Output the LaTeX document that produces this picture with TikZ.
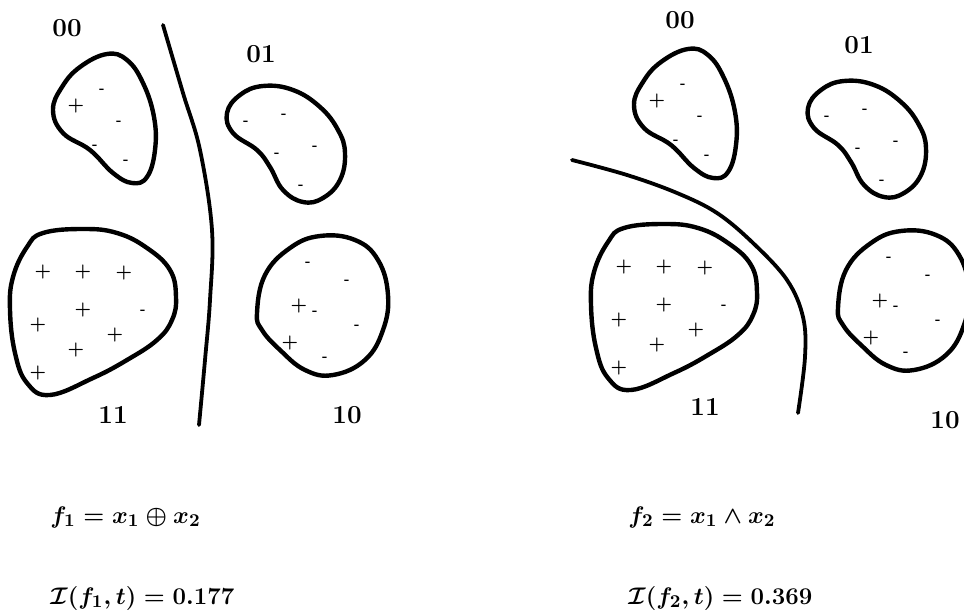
\documentclass[tikz,border=0pt]{standalone}
\usepackage{amsmath}

% the four clusters of one panel, #1 prefixes the node names
\newcommand\clusterset[1]{%
  \draw[blob] plot[smooth cycle,tension=.7] coordinates {(107,54) (127,60) (143,83) (154,117)
    (155,150) (147,177) (132,183) (113,173) (90,150) (63,133) (53,110) (62,87) (80,67)};
  \draw[blob] plot[smooth cycle,tension=.7] coordinates {(227,113) (240,95) (263,86) (293,90)
    (320,107) (338,130) (345,153) (340,180) (323,198) (303,202) (283,190) (270,167) (257,150) (233,133)};
  \draw[blob] plot[smooth cycle,tension=.7] coordinates {(43,233) (83,229) (117,233) (147,248)
    (170,270) (176,297) (172,320) (157,340) (127,360) (93,378) (50,395) (27,383) (15,353)
    (10,310) (13,277) (27,247)};
  \draw[blob] plot[smooth cycle,tension=.7] coordinates {(257,313) (265,275) (290,248) (320,236)
    (355,240) (378,260) (388,295) (383,330) (365,360) (333,375) (305,370) (280,350) (262,330)};
  \foreach \p [count=\i] in {(76,106),(43,272),(83,272),(124,273),(83,310),(38,325),(115,335),
      (76,350),(38,373),(299,306),(290,343)}
    \node[plusm] (#1pos\i) at \p {+};
  \foreach \p [count=\i] in {(102,91),(119,123),(95,147),(126,162),(246,123),(284,116),(277,155),
      (315,148),(301,187),(143,312),(308,264),(347,282),(315,313),(357,327),(325,359)}
    \node[negm] (#1neg\i) at \p {-};
}

\begin{document}
\begin{tikzpicture}[x=0.5pt,y=-0.5pt,
  blob/.style={line width=2.2pt,line join=round},
  cut/.style={line width=1.9pt,line cap=round},
  lab/.style={font=\fontsize{13}{15}\selectfont\bfseries,inner sep=0pt},
  plusm/.style={font=\fontsize{9}{10}\selectfont\bfseries,inner sep=0pt},
  negm/.style={font=\fontsize{6}{7}\selectfont\bfseries,inner sep=0pt},
  formula/.style={font=\fontsize{12.5}{15}\selectfont\boldmath,anchor=west,inner sep=0pt}]
\clip (0,0) rectangle (964,615);

% left panel: xor
\clusterset{L}
\draw[cut] plot[smooth,tension=.6] coordinates {(163,25) (183,93) (200,150) (212,230)
  (210,300) (205,360) (199,425)};
\node[lab] (L00) at (67,28) {00};
\node[lab] (L01) at (261,54) {01};
\node[lab] (L11) at (113,415) {11};
\node[lab] (L10) at (347,415) {10};
\node[formula] (f1) at (50,517) {$f_1 = x_1 \oplus x_2$};
\node[formula] (inf1) at (50,598) {$\mathcal{I}(f_1,t) = 0.177$};

% right panel: and
\begin{scope}[shift={(581,-5)}]
\clusterset{R}
\end{scope}
\draw[cut] plot[smooth,tension=.6] coordinates {(572,160) (627,175) (677,193) (717,213)
  (753,243) (787,280) (803,317) (805,357) (798,413)};
\node[lab] (R00) at (680,20) {00};
\node[lab] (R01) at (859,45) {01};
\node[lab] (R11) at (705,407) {11};
\node[lab] (R10) at (945,420) {10};
\node[formula] (f2) at (628,517) {$f_2 = x_1 \wedge x_2$};
\node[formula] (inf2) at (628,598) {$\mathcal{I}(f_2,t) = 0.369$};
\end{tikzpicture}
\end{document}
